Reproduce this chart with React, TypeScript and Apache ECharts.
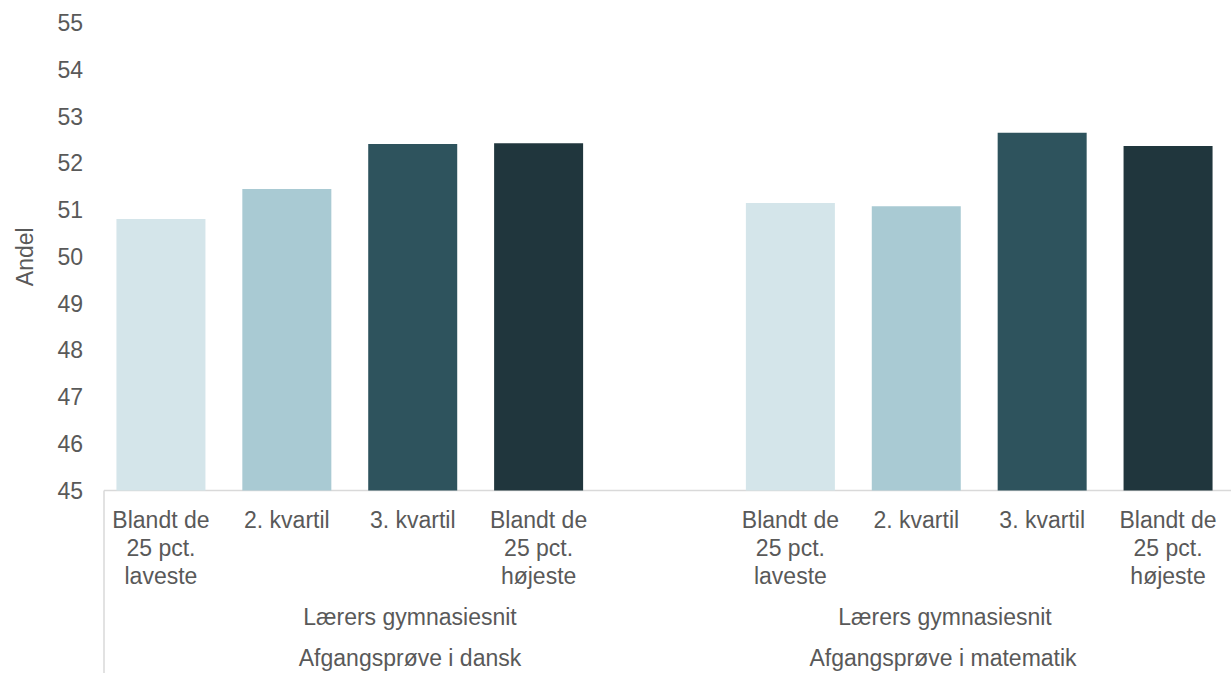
import React, { useEffect, useRef } from "react";
import * as echarts from "echarts";

const categories = [
  "Blandt de\n25 pct.\nlaveste",
  "2. kvartil",
  "3. kvartil",
  "Blandt de\n25 pct.\nhøjeste",
  "",
  "Blandt de\n25 pct.\nlaveste",
  "2. kvartil",
  "3. kvartil",
  "Blandt de\n25 pct.\nhøjeste",
];
const values: (number | null)[] = [50.81, 51.45, 52.41, 52.43, null, 51.15, 51.08, 52.65, 52.37];
const barColors = ["#D4E5EA", "#A9CAD3", "#2E535D", "#20363D", "#ffffff", "#D4E5EA", "#A9CAD3", "#2E535D", "#20363D"];
const subGroupLabels = ["Lærers gymnasiesnit", "Lærers gymnasiesnit"];
const groupLabels = ["Afgangsprøve i dansk", "Afgangsprøve i matematik"];
const yMin = 45;
const yMax = 55;
const yName = "Andel";

const FONT = "Liberation Sans, Arial, sans-serif";
const TXT = "#595959";
const FS = 23;

export default function App() {
  const ref = useRef<HTMLDivElement>(null);
  useEffect(() => {
    if (!ref.current) return;
    const chart = echarts.init(ref.current, undefined, { renderer: "svg" });
    const gx = [410, 945];
    chart.setOption({
      animation: false,
      grid: { left: 98, top: 23, width: 1137, height: 467.5, containLabel: false },
      xAxis: {
        type: "category",
        data: categories,
        axisLine: { show: false },
        axisTick: { show: false },
        axisLabel: {
          interval: 0,
          color: TXT,
          fontFamily: FONT,
          fontSize: FS,
          lineHeight: 27.7,
          margin: 16,
          align: "center",
        },
      },
      yAxis: {
        type: "value",
        min: yMin,
        max: yMax,
        interval: 1,
        name: yName,
        nameLocation: "middle",
        nameGap: 62,
        nameRotate: 90,
        nameTextStyle: { color: TXT, fontFamily: FONT, fontSize: FS },
        axisLine: { show: false },
        axisTick: { show: false },
        splitLine: { show: false },
        axisLabel: { color: TXT, fontFamily: FONT, fontSize: FS, margin: 15 },
      },
      series: [
        {
          type: "bar",
          barWidth: 89,
          data: values.map((v, i) => ({ value: v, itemStyle: { color: barColors[i] } })),
        },
      ],
      graphic: [
        { type: "line", shape: { x1: 104, y1: 490.5, x2: 1231, y2: 490.5 }, style: { stroke: "#D9D9D9", lineWidth: 1.5 } },
        { type: "line", shape: { x1: 104, y1: 490.5, x2: 104, y2: 673 }, style: { stroke: "#D9D9D9", lineWidth: 1.5 } },
        ...subGroupLabels.map((t, i) => ({
          type: "text",
          x: gx[i],
          y: 617,
          style: { text: t, fill: TXT, font: `${FS}px ${FONT}`, textAlign: "center", textVerticalAlign: "middle" },
        })),
        ...groupLabels.map((t, i) => ({
          type: "text",
          x: gx[i] - (i === 1 ? 2 : 0),
          y: 658,
          style: { text: t, fill: TXT, font: `${FS}px ${FONT}`, textAlign: "center", textVerticalAlign: "middle" },
        })),
      ],
    });
    return () => chart.dispose();
  }, []);
  return (
    <div
      ref={ref}
      style={{ position: "fixed", left: 0, top: 0, width: 1231, height: 673, background: "#ffffff" }}
    />
  );
}
